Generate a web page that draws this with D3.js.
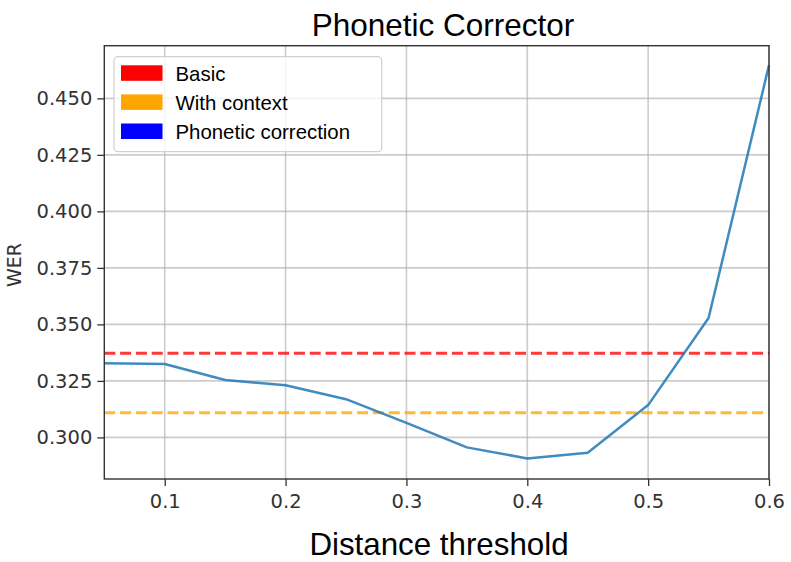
<!DOCTYPE html>
<html>
<head>
<meta charset="utf-8">
<script src="https://cdn.jsdelivr.net/npm/d3@7"></script>
<style>
  html, body { margin: 0; padding: 0; background: #fff; }
  svg { display: block; }
</style>
</head>
<body>
<svg id="chart" width="791" height="562"></svg>
<script>
// ---- data ----
const thresholds = [0.05, 0.10, 0.15, 0.20, 0.25, 0.30, 0.35, 0.40, 0.45, 0.50, 0.55, 0.60];
const phoneticWER = [0.3328, 0.3325, 0.3254, 0.3231, 0.3169, 0.3064, 0.2956, 0.2907, 0.2932, 0.3143, 0.3528, 0.4647];
const basicWER = 0.3372;
const contextWER = 0.3109;
const xTicks = [0.1, 0.2, 0.3, 0.4, 0.5, 0.6];
const yTicks = [0.300, 0.325, 0.350, 0.375, 0.400, 0.425, 0.450];
const legendLabels = ["Basic", "With context", "Phonetic correction"];
const legendColors = ["#ff0000", "#ffa500", "#0000ff"];
const xLimits = [0.05, 0.6];
const yLimits = [0.2816, 0.4733];

// ---- layout ----
const L = 104.3, R = 769, T = 45.7, B = 479;
const svg = d3.select("#chart");

const x = d3.scaleLinear().domain(xLimits).range([L, R]);
const y = d3.scaleLinear().domain(yLimits).range([B, T]);

// grid
const grid = svg.append("g");
grid.selectAll(".gx").data(xTicks).enter().append("line")
  .attr("x1", d => x(d)).attr("x2", d => x(d)).attr("y1", T).attr("y2", B)
  .attr("stroke", "#b0b0b0").attr("stroke-opacity", 0.65).attr("stroke-width", 1.6);
grid.selectAll(".gy").data(yTicks).enter().append("line")
  .attr("x1", L).attr("x2", R).attr("y1", d => y(d)).attr("y2", d => y(d))
  .attr("stroke", "#b0b0b0").attr("stroke-opacity", 0.65).attr("stroke-width", 1.6);

// horizontal reference lines
svg.append("line")
  .attr("x1", L).attr("x2", R).attr("y1", y(basicWER)).attr("y2", y(basicWER))
  .attr("stroke", "#ff0000").attr("stroke-opacity", 0.78).attr("stroke-width", 3)
  .attr("stroke-dasharray", "11,4.8");
svg.append("line")
  .attr("x1", L).attr("x2", R).attr("y1", y(contextWER)).attr("y2", y(contextWER))
  .attr("stroke", "#ffa500").attr("stroke-opacity", 0.78).attr("stroke-width", 3)
  .attr("stroke-dasharray", "11,4.8");

// phonetic line
const line = d3.line().x((d, i) => x(thresholds[i])).y(d => y(d));
svg.append("path")
  .datum(phoneticWER)
  .attr("d", line)
  .attr("fill", "none")
  .attr("stroke", "#1f77b4").attr("stroke-opacity", 0.85).attr("stroke-width", 2.5)
  .attr("stroke-linejoin", "round");

// axes
const xAxis = d3.axisBottom(x).tickValues(xTicks).tickFormat(d3.format(".1f")).tickSize(7).tickPadding(4);
const yAxis = d3.axisLeft(y).tickValues(yTicks).tickFormat(d3.format(".3f")).tickSize(7).tickPadding(5);

const gx = svg.append("g").attr("transform", `translate(0,${B})`).call(xAxis);
const gy = svg.append("g").attr("transform", `translate(${L},0)`).call(yAxis);
[gx, gy].forEach(g => {
  g.select(".domain").remove();
  g.selectAll(".tick line").attr("stroke", "#333").attr("stroke-width", 1.3);
  g.selectAll(".tick text")
    .attr("fill", "#333")
    .style("font-family", "'DejaVu Sans', sans-serif")
    .style("font-size", "19.5px");
});
gx.selectAll(".tick text").attr("dy", "0.9em");

// frame
svg.append("rect")
  .attr("x", L).attr("y", T).attr("width", R - L).attr("height", B - T)
  .attr("fill", "none").attr("stroke", "#333").attr("stroke-width", 1.4);

// legend
const lg = svg.append("g");
lg.append("rect")
  .attr("x", 114).attr("y", 56.7).attr("width", 267.7).attr("height", 95)
  .attr("rx", 4).attr("ry", 4)
  .attr("fill", "#fff").attr("fill-opacity", 0.8)
  .attr("stroke", "#d0d0d0").attr("stroke-width", 1.2);
const rows = lg.selectAll(".row").data(legendLabels).enter().append("g")
  .attr("transform", (d, i) => `translate(0,${i * 29.1})`);
rows.append("rect")
  .attr("x", 121).attr("y", 65.3).attr("width", 41.5).attr("height", 15.5)
  .attr("fill", (d, i) => legendColors[i]);
rows.append("text")
  .attr("x", 175.5).attr("y", 80.5)
  .text(d => d)
  .style("font-family", "'Liberation Sans', Arial, sans-serif")
  .style("font-size", "20.4px")
  .attr("fill", "#000");

// title & labels
svg.append("text")
  .attr("x", 443).attr("y", 36)
  .attr("text-anchor", "middle")
  .style("font-family", "'Liberation Sans', Arial, sans-serif")
  .style("font-size", "31.5px")
  .text("Phonetic Corrector");

svg.append("text")
  .attr("x", 439).attr("y", 555)
  .attr("text-anchor", "middle")
  .style("font-family", "'Liberation Sans', Arial, sans-serif")
  .style("font-size", "31.3px")
  .text("Distance threshold");

svg.append("text")
  .attr("transform", "translate(20.5,265) rotate(-90)")
  .attr("text-anchor", "middle")
  .style("font-family", "'DejaVu Sans', sans-serif")
  .style("font-size", "19px")
  .attr("fill", "#333")
  .text("WER");
</script>
</body>
</html>
